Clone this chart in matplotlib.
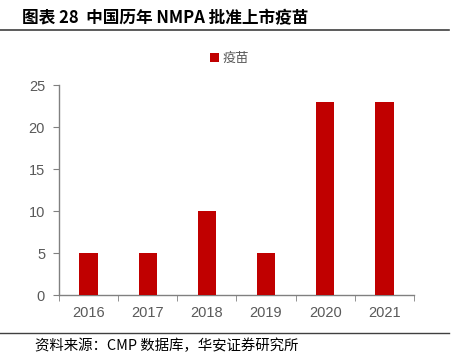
import matplotlib
matplotlib.use("Agg")
import matplotlib.pyplot as plt
import numpy as np

plt.rcParams['font.family'] = ['Liberation Sans', 'Noto Sans CJK SC', 'DejaVu Sans']

years = ['2016', '2017', '2018', '2019', '2020', '2021']
vaccines = [5, 5, 10, 5, 23, 23]
yticks = [0, 5, 10, 15, 20, 25]

red = '#C00000'
grey = '#808080'
txt = '#595959'

fig = plt.figure(figsize=(4.51, 3.62), dpi=100)
ax = fig.add_axes([0.1308, 0.185, 0.787, 0.580])

x = np.arange(len(years))
ax.bar(x, vaccines, width=0.31, color=red, label='疫苗', zorder=3)

ax.set_xlim(-0.5, len(years) - 0.5)
ax.set_ylim(0, 25)
ax.set_yticks(yticks)
ax.set_xticks(x)
ax.set_xticklabels(years)
ax.set_xticks(np.arange(len(years) + 1) - 0.5, minor=True)
ax.tick_params(axis='x', which='major', length=0, pad=8, labelsize=10.5, labelcolor=txt)
ax.tick_params(axis='x', which='minor', length=4, color=grey, direction='out')
ax.tick_params(axis='y', length=4, color=grey, direction='out', labelsize=10.5,
               labelcolor=txt, pad=6)

for s in ['top', 'right']:
    ax.spines[s].set_visible(False)
for s in ['left', 'bottom']:
    ax.spines[s].set_color(grey)
    ax.spines[s].set_linewidth(1)

leg = ax.legend(loc='upper center', bbox_to_anchor=(0.48, 1.215), frameon=False,
                handlelength=0.7, handleheight=0.7, handletextpad=0.3,
                prop={'family': ['Noto Sans CJK SC'], 'size': 9.5})
for t in leg.get_texts():
    t.set_color(txt)

fig.text(0.049, 0.949, '图表 28  中国历年 NMPA 批准上市疫苗', fontsize=12, fontweight='bold',
         family=['Noto Sans CJK SC'], color='black', va='center', ha='left')
fig.add_artist(plt.Line2D([0.0, 0.995], [0.917, 0.917], color='#404040', lw=1.2))
fig.add_artist(plt.Line2D([0.0, 0.995], [0.080, 0.080], color='#404040', lw=1.0))
fig.text(0.078, 0.044, '资料来源：CMP 数据库，华安证券研究所', fontsize=10.4,
         family=['Noto Sans CJK SC'], color='black', va='center', ha='left')

fig.savefig('out.png', dpi=100)
